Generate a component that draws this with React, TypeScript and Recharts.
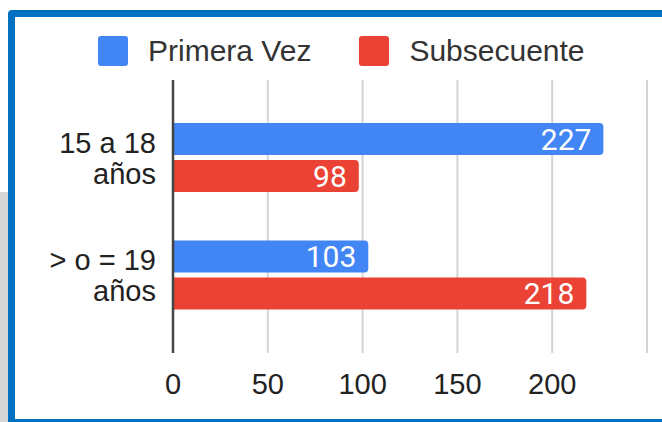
import React from "react";
import {
  BarChart, Bar, XAxis, YAxis, CartesianGrid, Legend, LabelList, ReferenceLine,
} from "recharts";

// values
const AGE_GROUPS = ["15 a 18\naños", "> o = 19\naños"];
const PRIMERA_VEZ = [227, 103];
const SUBSECUENTE = [98, 218];
const X_TICKS = [0, 50, 100, 150, 200, 250];

const BLUE = "#4285f4";
const RED = "#ea4335";
const TEXT = "#222222";
const FONT = "'Liberation Sans', Arial, sans-serif";

const data = AGE_GROUPS.map((g, i) => ({
  group: g,
  primera: PRIMERA_VEZ[i],
  subsecuente: SUBSECUENTE[i],
}));

function GroupTick({ x, y, payload }: any) {
  const lines = String(payload.value).split("\n");
  return (
    <text x={x} y={y} textAnchor="end" fill={TEXT} fontSize={29} fontFamily={FONT}>
      <tspan x={x} y={y - 5}>{lines[0]}</tspan>
      <tspan x={x} y={y + 26}>{lines[1]}</tspan>
    </text>
  );
}

function LegendBox({ payload }: any) {
  return (
    <div style={{ display: "flex", alignItems: "center", height: 30 }}>
      {(payload ?? []).map((p: any, i: number) => (
        <div key={p.value} style={{ display: "flex", alignItems: "center", marginLeft: i ? 48 : 0 }}>
          <span style={{ width: 30, height: 30, borderRadius: 3, background: p.color, marginRight: 20 }} />
          <span style={{ fontFamily: FONT, fontSize: 30, color: "#333", lineHeight: "30px" }}>{p.value}</span>
        </div>
      ))}
    </div>
  );
}

export default function App() {
  return (
    <div style={{ position: "fixed", left: 0, top: 0, width: 662, height: 422, overflow: "hidden", background: "#fff" }}>
      <div style={{ position: "absolute", left: 0, top: 192, width: 8, height: 230, background: "#d6d6d6" }} />
      <div
        style={{
          position: "absolute", left: 8, top: 10, width: 720, height: 416,
          boxSizing: "border-box", border: "7px solid #0070c0", borderRadius: 4,
        }}
      />
      <div style={{ position: "absolute", left: 0, top: 0 }}>
        <BarChart
          width={662}
          height={422}
          data={data}
          layout="vertical"
          margin={{ top: 50, right: 15, bottom: 19, left: 0 }}
          barSize={32}
          barGap={5}
        >
          <CartesianGrid horizontal={false} stroke="#d4d4d4" strokeWidth={2} />
          <XAxis
            type="number"
            domain={[0, 250]}
            ticks={X_TICKS}
            interval={0}
            tickFormatter={(v: number) => (v === 250 ? "" : String(v))}
            axisLine={false}
            tickLine={false}
            tickSize={0}
            tickMargin={20}
            height={50}
            tick={{ fill: TEXT, fontSize: 29, fontFamily: FONT }}
          />
          <YAxis
            type="category"
            dataKey="group"
            width={173}
            axisLine={false}
            tickLine={false}
            tickSize={0}
            tickMargin={17}
            padding={{ top: 19, bottom: 19 }}
            tick={<GroupTick />}
          />
          <ReferenceLine x={0} stroke="#444" strokeWidth={2.5} />
          <Legend
            verticalAlign="top"
            content={<LegendBox />}
            wrapperStyle={{ position: "absolute", top: 36, left: 98, width: "auto", height: 30 }}
          />
          <Bar dataKey="primera" name="Primera Vez" fill={BLUE} radius={[0, 4, 4, 0]} isAnimationActive={false}>
            <LabelList dataKey="primera" position="insideRight" offset={12} fill="#fff" fontSize={30} fontFamily="Roboto, sans-serif" />
          </Bar>
          <Bar dataKey="subsecuente" name="Subsecuente" fill={RED} radius={[0, 4, 4, 0]} isAnimationActive={false}>
            <LabelList dataKey="subsecuente" position="insideRight" offset={12} fill="#fff" fontSize={30} fontFamily="Roboto, sans-serif" />
          </Bar>
        </BarChart>
      </div>
    </div>
  );
}
